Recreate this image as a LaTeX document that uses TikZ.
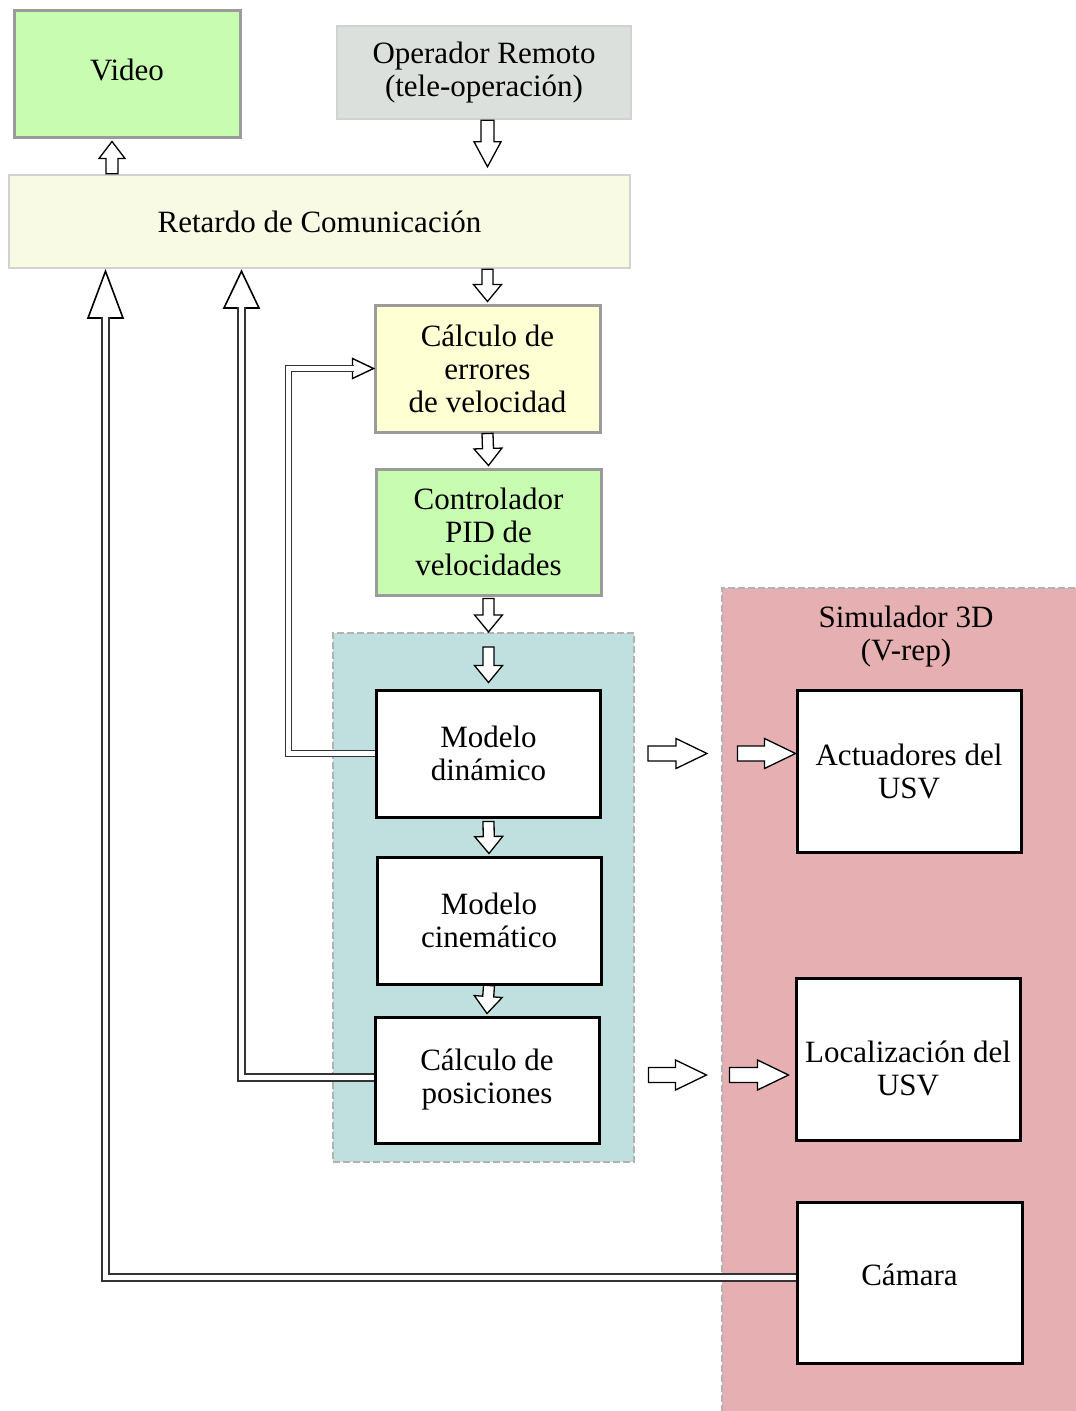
\documentclass[tikz,border=0pt]{standalone}
\usepackage{fontspec}
\setmainfont{Liberation Serif}
\usetikzlibrary{calc}

\definecolor{leafgreen}{RGB}{200,252,176}
\definecolor{opgray}{RGB}{220,224,220}
\definecolor{delaycream}{RGB}{248,250,228}
\definecolor{erryellow}{RGB}{255,255,212}
\definecolor{modelteal}{RGB}{192,224,224}
\definecolor{simpink}{RGB}{230,176,178}
\definecolor{rimgray}{RGB}{155,155,155}
\definecolor{softgray}{RGB}{210,210,210}
\definecolor{dashgray}{RGB}{178,178,178}

\tikzset{
  % geometry of the hollow block arrows
  arw/.store in=\arwShaft, arh/.store in=\arwHead, arl/.store in=\arwLen,
  arw=5.5pt, arh=14pt, arl=17pt,
  hollowarrow/.style={draw=black, fill=white, line width=1.3pt, line join=miter,
    to path={let \p1=(\tikztostart), \p2=(\tikztotarget),
      \n1={atan2(\y2-\y1,\x2-\x1)}, \n2={veclen(\x2-\x1,\y2-\y1)} in
      ([shift={(\p1)},rotate=\n1]0pt,\arwShaft)
      -- ([shift={(\p1)},rotate=\n1]\n2-\arwLen,\arwShaft)
      -- ([shift={(\p1)},rotate=\n1]\n2-\arwLen,\arwHead)
      -- (\p2)
      -- ([shift={(\p1)},rotate=\n1]\n2-\arwLen,-\arwHead)
      -- ([shift={(\p1)},rotate=\n1]\n2-\arwLen,-\arwShaft)
      -- ([shift={(\p1)},rotate=\n1]0pt,-\arwShaft) -- cycle}},
  % open triangular head of the feedback lines
  openhead/.style={draw=black, fill=white, line width=1.6pt, line join=miter,
    to path={let \p1=(\tikztostart), \p2=(\tikztotarget),
      \n1={atan2(\y2-\y1,\x2-\x1)} in
      ([shift={(\p1)},rotate=\n1]0pt,\arwHead) -- (\p2)
      -- ([shift={(\p1)},rotate=\n1]0pt,-\arwHead) -- cycle}},
  feedback/.style={draw=black!80, line width=2pt, double=white,
    double distance=5pt, line join=miter},
  blk/.style={rectangle, inner sep=0pt, align=center,
    font=\fontsize{31}{33}\selectfont},
  softblk/.style={blk, line width=3pt, draw=rimgray},
  simblk/.style={blk, line width=3pt, draw=black, fill=white,
    minimum width=224pt},
  panel/.style={rectangle, draw=dashgray, line width=2.2pt,
    dash pattern=on 7pt off 3pt},
}

\begin{document}
\begin{tikzpicture}[x=1pt, y=-1pt]
\useasboundingbox (0,0) rectangle (1076,1411);

% grouping panels
\node[panel, fill=simpink, minimum width=368pt, minimum height=837pt] (sim) at (906,1006.5) {};
\node[panel, fill=modelteal, minimum width=301pt, minimum height=529pt] (model) at (483.5,897.5) {};
\node[blk] (simtitle) at (906,637) {Simulador 3D\\(V-rep)};

% blocks (empty \mbox lines nudge the text off centre)
\node[softblk, fill=leafgreen, minimum width=226pt, minimum height=127pt] (vid) at (127,73.5) {Video\\[-25pt]\mbox{}};
\node[blk, draw=softgray, line width=2.5pt, fill=opgray, minimum width=294pt, minimum height=93pt] (op) at (484,72.5) {Operador Remoto\\(tele-operación)};
\node[blk, draw=softgray, line width=2.5pt, fill=delaycream, minimum width=621pt, minimum height=93pt] (ret) at (319.5,221.5) {Retardo de Comunicación};
\node[softblk, fill=erryellow, minimum width=225pt, minimum height=127pt] (calc) at (487.5,368.5) {Cálculo de\\errores\\de velocidad};
\node[softblk, fill=leafgreen, minimum width=225pt, minimum height=126pt] (ctrl) at (488.5,532) {Controlador\\PID de\\velocidades};
\node[simblk, minimum height=127pt] (dyn) at (488.5,753.5) {Modelo\\dinámico};
\node[simblk, minimum height=127pt] (cin) at (489,920.5) {Modelo\\cinemático};
\node[simblk, minimum height=126pt] (pos) at (487,1080) {Cálculo de\\posiciones};
\node[simblk, minimum height=162pt] (act) at (909,771) {Actuadores del\\USV};
\node[simblk, minimum height=162pt] (loc) at (908,1059) {\mbox{}\\[7pt]Localización del\\USV};
\node[simblk, minimum width=225pt, minimum height=161pt] (cam) at (909.5,1282.5) {Cámara\\[-17pt]\mbox{}};

% helper points for the block arrows
\coordinate (vtip) at ([xshift=-15pt,yshift=-3pt]vid.south);
\coordinate (optail) at (op.south -| calc.north);
\coordinate (ophead) at (ret.north -| calc.north);
\coordinate (rettail) at (ret.south -| calc.north);
\coordinate (modtop) at (model.north -| dyn.north);
\coordinate (acttip) at (act.west |- dyn.east);
\coordinate (locpt) at (pos.east -| loc.west);

% vertical block arrows
\path[hollowarrow, arw=6pt, arh=13pt, arl=17pt] (vtip |- ret.north) to (vtip);
\path[hollowarrow, arw=6.5pt, arh=13.5pt, arl=25pt] (optail) to ([yshift=7pt]ophead);
\path[hollowarrow] (rettail) to ([yshift=2pt]calc.north);
\path[hollowarrow] (calc.south) to ([yshift=2pt]ctrl.north);
\path[hollowarrow] ([yshift=-2pt]ctrl.south) to (ctrl.south |- model.north);
\path[hollowarrow] ([yshift=-15pt]modtop) to ([yshift=6pt]dyn.north);
\path[hollowarrow] ([yshift=-3pt]dyn.south) to ([yshift=2pt]cin.north);
\path[hollowarrow] (cin.south) to ([yshift=2pt]pos.north);

% horizontal block arrows towards the simulator
\path[hollowarrow, arw=7.5pt, arh=15pt, arl=31pt] ([xshift=46pt]dyn.east) to ([xshift=105pt]dyn.east);
\path[hollowarrow, arw=7.5pt, arh=15pt, arl=31pt] ([xshift=-58pt]acttip) to (acttip);
\path[hollowarrow, arw=7.5pt, arh=15pt, arl=31pt] ([xshift=48pt,yshift=5pt]pos.east) to ([xshift=106pt,yshift=5pt]pos.east);
\path[hollowarrow, arw=7.5pt, arh=15pt, arl=31pt] ([xshift=-65pt,yshift=5pt]locpt) to ([xshift=-6pt,yshift=5pt]locpt);

% feedback: camera image back to the communication delay
\coordinate (camout) at ([yshift=5.5pt]cam.west);
\coordinate (base1) at (105.5,318);
\coordinate (tip1) at (base1 |- ret.south);
\path[openhead, arh=17.5pt] (base1) to ([yshift=-2pt]tip1);
\draw[feedback] (camout) -| ([yshift=1.5pt]base1);

% feedback: computed positions back to the communication delay
\coordinate (posout) at ([yshift=3pt]pos.west);
\coordinate (base2) at (241.5,308);
\coordinate (tip2) at (base2 |- ret.south);
\path[openhead, arh=17.5pt] (base2) to ([yshift=-2pt]tip2);
\draw[feedback] (posout) -| ([yshift=1.5pt]base2);

% feedback: dynamic model velocities to the error computation
\coordinate (errbase) at ([xshift=-21pt]calc.west);
\path[openhead, arh=10pt, line width=1.4pt] (errbase) to (calc.west);
\draw[feedback, line width=1.7pt, double distance=4.5pt] (dyn.west) -| ($(errbase)+(-64,0)$) -- ([xshift=1.5pt]errbase);
\end{tikzpicture}
\end{document}
